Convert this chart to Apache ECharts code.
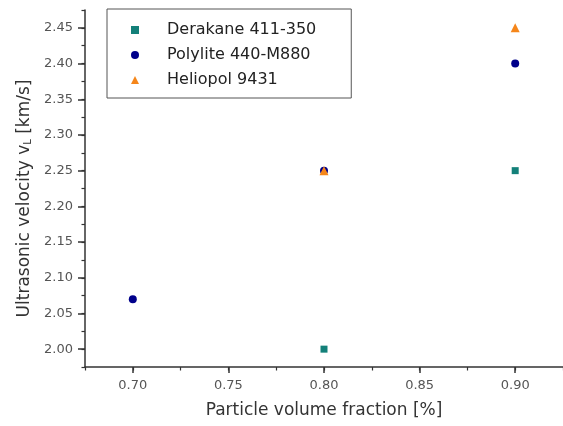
<!DOCTYPE html>
<html>
<head>
<meta charset="utf-8">
<script src="https://cdn.jsdelivr.net/npm/echarts@6/dist/echarts.min.js"></script>
<style>html,body{margin:0;padding:0;background:#fff}#c{width:563px;height:426px}</style>
</head>
<body>
<div id="c"></div>
<script>
const seriesNames = ['Derakane 411-350', 'Polylite 440-M880', 'Heliopol 9431'];
const derakane = [[0.80, 2.00], [0.90, 2.25]];
const polylite = [[0.70, 2.07], [0.80, 2.25], [0.90, 2.40]];
const heliopol = [[0.80, 2.25], [0.90, 2.45]];
const xTicks = [0.70, 0.75, 0.80, 0.85, 0.90];
const yTicks = [2.00, 2.05, 2.10, 2.15, 2.20, 2.25, 2.30, 2.35, 2.40, 2.45];

const FONT = 'DejaVu Sans';
const axisColor = '#333';
const labelColor = '#555';
const chart = echarts.init(document.getElementById('c'), null, {renderer: 'canvas'});

function mainAxis(isX) {
  const ticks = isX ? xTicks : yTicks;
  return {
    type: 'value',
    min: isX ? 0.675 : 1.975,
    max: isX ? 0.925 : 2.475,
    position: isX ? 'bottom' : 'left',
    axisLine: {show: true, onZero: false, lineStyle: {color: axisColor, width: 1.5}},
    axisTick: {show: true, inside: false, length: isX ? 6 : 7, customValues: ticks, lineStyle: {color: axisColor, width: 1.5}},
    axisLabel: {show: true, customValues: ticks, margin: 12, color: labelColor, fontFamily: FONT, fontSize: 13,
      formatter: v => Number(v).toFixed(2)},
    splitLine: {show: false},
    name: isX ? 'Particle volume fraction [%]' : 'Ultrasonic velocity v{sub|L} [km/s]',
    nameLocation: 'middle',
    nameGap: isX ? 35 : 50,
    nameTextStyle: isX ? {color: '#333', fontFamily: FONT, fontSize: 17}
      : {color: '#333', fontFamily: FONT, fontSize: 17, padding: [0, 20, 0, 0],
         rich: {sub: {fontFamily: FONT, fontSize: 10, color: '#333', verticalAlign: 'bottom', padding: [8, 0, 0, 0]}}}
  };
}
function minorAxis(isX) {
  return {
    type: 'value',
    min: isX ? 0.675 : 1.975,
    max: isX ? 0.925 : 2.475,
    interval: 0.025,
    position: isX ? 'bottom' : 'left',
    offset: 0,
    axisLine: {show: false, onZero: false},
    axisTick: {show: true, inside: false, length: 3.5, lineStyle: {color: axisColor, width: 1.2}},
    axisLabel: {show: false},
    splitLine: {show: false}
  };
}

chart.setOption({
  animation: false,
  backgroundColor: '#fff',
  grid: {left: 85, right: 0, top: 10, bottom: 59, containLabel: false},
  xAxis: [mainAxis(true), minorAxis(true)],
  yAxis: [mainAxis(false), minorAxis(false)],
  legend: {
    orient: 'vertical',
    left: 107, top: 9,
    padding: [11, 35, 8, 24],
    itemWidth: 8, itemHeight: 8,
    itemGap: 5,
    borderColor: '#555', borderWidth: 1,
    textStyle: {fontFamily: FONT, fontSize: 16, color: '#222', lineHeight: 20, padding: [0, 0, 0, 23]},
    data: seriesNames
  },
  series: [
    {name: seriesNames[0], type: 'scatter', data: derakane, symbol: 'rect', symbolSize: 7, itemStyle: {color: '#138079', opacity: 1}, xAxisIndex: 0, yAxisIndex: 0},
    {name: seriesNames[1], type: 'scatter', data: polylite, symbol: 'circle', symbolSize: 8, itemStyle: {color: '#00008b', opacity: 1}, xAxisIndex: 0, yAxisIndex: 0},
    {name: seriesNames[2], type: 'scatter', data: heliopol, symbol: 'triangle', symbolSize: 9, itemStyle: {color: '#f5861a', opacity: 1}, xAxisIndex: 0, yAxisIndex: 0}
  ]
});
</script>
</body>
</html>
